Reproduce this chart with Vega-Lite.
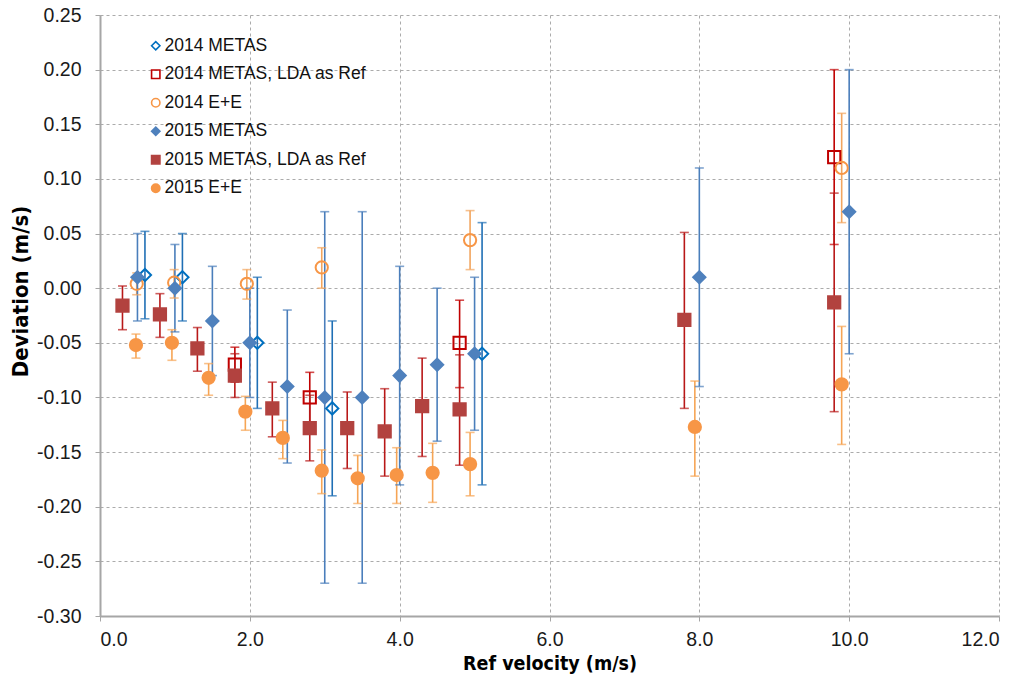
{
  "$schema": "https://vega.github.io/schema/vega-lite/v6.json",
  "width": 899,
  "height": 601,
  "autosize": {"type": "none"},
  "padding": {"left": 100, "top": 15, "right": 24, "bottom": 66},
  "background": "white",
  "config": {
    "view": {"stroke": null},
    "font": "Liberation Sans",
    "axis": {
      "gridColor": "#ABABAB",
      "gridDash": [3, 3],
      "gridWidth": 1,
      "domainColor": "#A6A6A6",
      "domainWidth": 2,
      "tickColor": "#A6A6A6",
      "tickSize": 5,
      "labelFont": "Liberation Sans",
      "labelFontSize": 19.5,
      "labelColor": "#1A1A1A",
      "titleFont": "DejaVu Sans Condensed, Liberation Sans, sans-serif",
      "titleFontSize": 19.5,
      "titleFontWeight": "bold",
      "titleColor": "#000000"
    },
    "axisX": {"labelPadding": 9, "titlePadding": 6},
    "axisY": {"labelPadding": 14, "titleX": -80, "titleY": 276, "titleBaseline": "middle", "titleAlign": "center", "titleFontSize": 22},
    "legend": {
      "labelFont": "Liberation Sans",
      "labelFontSize": 17.5,
      "labelColor": "#111111",
      "symbolSize": 70,
      "symbolStrokeWidth": 1.6,
      "rowPadding": 9.5,
      "labelOffset": 0,
      "labelLimit": 400
    }
  },
  "resolve": {"legend": {"color": "independent"}},
  "data": {
    "values": [
      {"s": "2014 METAS", "x": 0.6, "y": 0.012, "lo": -0.028, "hi": 0.052},
      {"s": "2014 METAS", "x": 1.1, "y": 0.010, "lo": -0.030, "hi": 0.050},
      {"s": "2014 METAS", "x": 2.1, "y": -0.050, "lo": -0.110, "hi": 0.010},
      {"s": "2014 METAS", "x": 3.1, "y": -0.110, "lo": -0.190, "hi": -0.030},
      {"s": "2014 METAS", "x": 5.1, "y": -0.060, "lo": -0.180, "hi": 0.060},
      {"s": "2014 METAS, LDA as Ref", "x": 1.8, "y": -0.070, "lo": -0.086, "hi": -0.054},
      {"s": "2014 METAS, LDA as Ref", "x": 2.8, "y": -0.100, "lo": -0.123, "hi": -0.077},
      {"s": "2014 METAS, LDA as Ref", "x": 4.8, "y": -0.050, "lo": -0.091, "hi": -0.011},
      {"s": "2014 METAS, LDA as Ref", "x": 9.8, "y": 0.120, "lo": 0.040, "hi": 0.200},
      {"s": "2014 E+E", "x": 0.49, "y": 0.004, "lo": -0.006, "hi": 0.014},
      {"s": "2014 E+E", "x": 0.99, "y": 0.005, "lo": -0.009, "hi": 0.017},
      {"s": "2014 E+E", "x": 1.96, "y": 0.004, "lo": -0.010, "hi": 0.017},
      {"s": "2014 E+E", "x": 2.96, "y": 0.019, "lo": 0.000, "hi": 0.037},
      {"s": "2014 E+E", "x": 4.94, "y": 0.044, "lo": 0.017, "hi": 0.071},
      {"s": "2014 E+E", "x": 9.9, "y": 0.110, "lo": 0.060, "hi": 0.160},
      {"s": "2015 METAS", "x": 0.5, "y": 0.010, "lo": -0.030, "hi": 0.050},
      {"s": "2015 METAS", "x": 1.0, "y": 0.000, "lo": -0.040, "hi": 0.040},
      {"s": "2015 METAS", "x": 1.5, "y": -0.030, "lo": -0.080, "hi": 0.020},
      {"s": "2015 METAS", "x": 2.0, "y": -0.050, "lo": -0.100, "hi": 0.000},
      {"s": "2015 METAS", "x": 2.5, "y": -0.090, "lo": -0.160, "hi": -0.020},
      {"s": "2015 METAS", "x": 3.0, "y": -0.100, "lo": -0.270, "hi": 0.070},
      {"s": "2015 METAS", "x": 3.5, "y": -0.100, "lo": -0.270, "hi": 0.070},
      {"s": "2015 METAS", "x": 4.0, "y": -0.080, "lo": -0.180, "hi": 0.020},
      {"s": "2015 METAS", "x": 4.5, "y": -0.070, "lo": -0.140, "hi": 0.000},
      {"s": "2015 METAS", "x": 5.0, "y": -0.060, "lo": -0.130, "hi": 0.010},
      {"s": "2015 METAS", "x": 8.0, "y": 0.010, "lo": -0.090, "hi": 0.110},
      {"s": "2015 METAS", "x": 10.0, "y": 0.070, "lo": -0.060, "hi": 0.200},
      {"s": "2015 METAS, LDA as Ref", "x": 0.3, "y": -0.016, "lo": -0.038, "hi": 0.002},
      {"s": "2015 METAS, LDA as Ref", "x": 0.8, "y": -0.024, "lo": -0.045, "hi": -0.005},
      {"s": "2015 METAS, LDA as Ref", "x": 1.3, "y": -0.055, "lo": -0.076, "hi": -0.036},
      {"s": "2015 METAS, LDA as Ref", "x": 1.8, "y": -0.080, "lo": -0.100, "hi": -0.060},
      {"s": "2015 METAS, LDA as Ref", "x": 2.3, "y": -0.110, "lo": -0.136, "hi": -0.086},
      {"s": "2015 METAS, LDA as Ref", "x": 2.8, "y": -0.128, "lo": -0.158, "hi": -0.098},
      {"s": "2015 METAS, LDA as Ref", "x": 3.3, "y": -0.128, "lo": -0.165, "hi": -0.095},
      {"s": "2015 METAS, LDA as Ref", "x": 3.8, "y": -0.131, "lo": -0.172, "hi": -0.092},
      {"s": "2015 METAS, LDA as Ref", "x": 4.3, "y": -0.108, "lo": -0.154, "hi": -0.064},
      {"s": "2015 METAS, LDA as Ref", "x": 4.8, "y": -0.111, "lo": -0.162, "hi": -0.061},
      {"s": "2015 METAS, LDA as Ref", "x": 7.8, "y": -0.029, "lo": -0.110, "hi": 0.051},
      {"s": "2015 METAS, LDA as Ref", "x": 9.8, "y": -0.013, "lo": -0.113, "hi": 0.087},
      {"s": "2015 E+E", "x": 0.48, "y": -0.052, "lo": -0.064, "hi": -0.042},
      {"s": "2015 E+E", "x": 0.96, "y": -0.050, "lo": -0.066, "hi": -0.038},
      {"s": "2015 E+E", "x": 1.45, "y": -0.082, "lo": -0.098, "hi": -0.069},
      {"s": "2015 E+E", "x": 1.94, "y": -0.113, "lo": -0.130, "hi": -0.099},
      {"s": "2015 E+E", "x": 2.44, "y": -0.137, "lo": -0.156, "hi": -0.121},
      {"s": "2015 E+E", "x": 2.96, "y": -0.167, "lo": -0.188, "hi": -0.148},
      {"s": "2015 E+E", "x": 3.44, "y": -0.174, "lo": -0.197, "hi": -0.153},
      {"s": "2015 E+E", "x": 3.96, "y": -0.171, "lo": -0.197, "hi": -0.146},
      {"s": "2015 E+E", "x": 4.44, "y": -0.169, "lo": -0.196, "hi": -0.142},
      {"s": "2015 E+E", "x": 4.94, "y": -0.161, "lo": -0.190, "hi": -0.132},
      {"s": "2015 E+E", "x": 7.94, "y": -0.127, "lo": -0.172, "hi": -0.085},
      {"s": "2015 E+E", "x": 9.9, "y": -0.088, "lo": -0.143, "hi": -0.035}
    ]
  },
  "layer": [
    {
      "mark": {"type": "rule", "strokeWidth": 1.6},
      "encoding": {
        "x": {"field": "x", "type": "quantitative", "scale": {"domain": [0, 12], "nice": false, "zero": false}, "axis": {"values": [0, 2, 4, 6, 8, 10, 12], "format": ".1f"}, "title": "Ref velocity (m/s)"},
        "y": {"field": "lo", "type": "quantitative", "scale": {"domain": [-0.3, 0.25], "nice": false, "zero": false}, "axis": {"values": [-0.3, -0.25, -0.2, -0.15, -0.1, -0.05, 0, 0.05, 0.1, 0.15, 0.2, 0.25], "labelExpr": "replace(format(datum.value, '.2f'), '\u2212', '-')"}, "title": "Deviation (m/s)"},
        "y2": {"field": "hi"},
        "color": {"field": "s", "type": "nominal", "legend": null, "scale": {"domain": ["2014 METAS", "2014 METAS, LDA as Ref", "2014 E+E", "2015 METAS", "2015 METAS, LDA as Ref", "2015 E+E"], "range": ["#1F6FB5", "#C00000", "#F2A55E", "#4A7EBB", "#B81818", "#F6A555"]}}
      }
    },
    {
      "mark": {"type": "tick", "orient": "horizontal", "size": 9, "thickness": 1.6},
      "encoding": {
        "x": {"field": "x", "type": "quantitative", "title": "Ref velocity (m/s)"},
        "y": {"field": "lo", "type": "quantitative", "title": "Deviation (m/s)"},
        "color": {"field": "s", "type": "nominal", "legend": null}
      }
    },
    {
      "mark": {"type": "tick", "orient": "horizontal", "size": 9, "thickness": 1.6},
      "encoding": {
        "x": {"field": "x", "type": "quantitative", "title": "Ref velocity (m/s)"},
        "y": {"field": "hi", "type": "quantitative", "title": "Deviation (m/s)"},
        "color": {"field": "s", "type": "nominal", "legend": null}
      }
    },
    {
      "mark": {"type": "point", "strokeWidth": 2, "opacity": 1, "size": 150},
      "encoding": {
        "x": {"field": "x", "type": "quantitative", "title": "Ref velocity (m/s)"},
        "y": {"field": "y", "type": "quantitative", "title": "Deviation (m/s)"},
        "stroke": {"field": "s", "type": "nominal", "title": null, "legend": {"orient": "none", "legendX": 47, "legendY": 22}, "scale": {"domain": ["2014 METAS", "2014 METAS, LDA as Ref", "2014 E+E", "2015 METAS", "2015 METAS, LDA as Ref", "2015 E+E"], "range": ["#0070C0", "#C00000", "#F79646", "#4F81BD", "#B2423F", "#F79646"]}},
        "fill": {"field": "s", "type": "nominal", "title": null, "legend": {"orient": "none", "legendX": 47, "legendY": 22}, "scale": {"domain": ["2014 METAS", "2014 METAS, LDA as Ref", "2014 E+E", "2015 METAS", "2015 METAS, LDA as Ref", "2015 E+E"], "range": ["transparent", "transparent", "transparent", "#4F81BD", "#B2423F", "#F79646"]}},
        "shape": {"field": "s", "type": "nominal", "title": null, "legend": {"orient": "none", "legendX": 47, "legendY": 22}, "scale": {"domain": ["2014 METAS", "2014 METAS, LDA as Ref", "2014 E+E", "2015 METAS", "2015 METAS, LDA as Ref", "2015 E+E"], "range": ["diamond", "square", "circle", "diamond", "square", "circle"]}}
      }
    }
  ]
}
